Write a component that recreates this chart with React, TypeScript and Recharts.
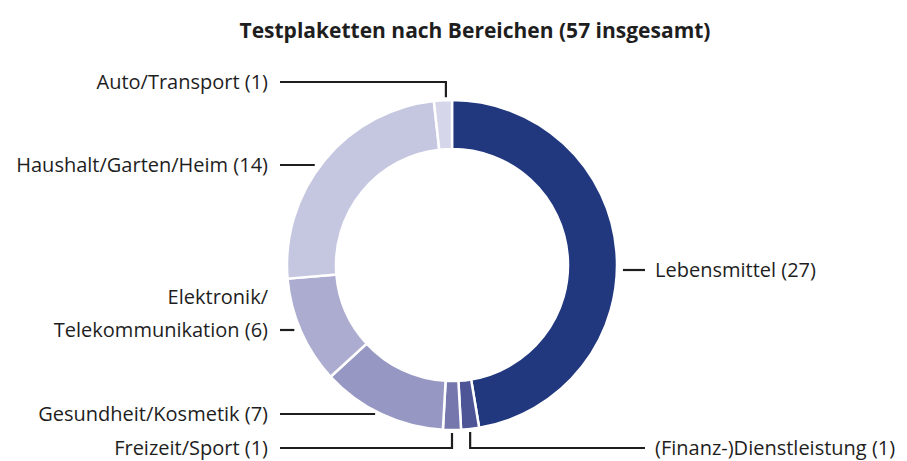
import { PieChart, Pie, Cell } from 'recharts';

// Testplaketten per category, clockwise from 12 o'clock
const categories = [
  'Lebensmittel',
  '(Finanz-)Dienstleistung',
  'Freizeit/Sport',
  'Gesundheit/Kosmetik',
  'Elektronik/\nTelekommunikation',
  'Haushalt/Garten/Heim',
  'Auto/Transport',
];
const counts = [27, 1, 1, 7, 6, 14, 1];
const colors = ['#21387f', '#4d5597', '#7577ad', '#9698c3', '#abacd0', '#c5c6e0', '#d5d6e9'];

const data = categories.map((name, i) => ({ name, value: counts[i] }));
const total = counts.reduce((s, v) => s + v, 0);

const W = 907;
const H = 461;
const CX = 452;
const CY = 265;
const OUTER = 165;
const INNER = 116;
const INK = '#1e1e1e';
const FONT = '"Open Sans", sans-serif';

// label placement: side, row y, and how the leader line is drawn
const LABELS: { side: 'left' | 'right'; y: number; kind: 'dash' | 'up' | 'down' }[] = [
  { side: 'right', y: 270, kind: 'dash' },
  { side: 'right', y: 448, kind: 'down' },
  { side: 'left', y: 448, kind: 'down' },
  { side: 'left', y: 414, kind: 'dash' },
  { side: 'left', y: 330, kind: 'dash' },
  { side: 'left', y: 165, kind: 'dash' },
  { side: 'left', y: 82, kind: 'up' },
];
const LEFT_LINE_X = 280;
const LEFT_TEXT_X = 268;
const RIGHT_LINE_X = 645;
const RIGHT_TEXT_X = 655;

const RAD = Math.PI / 180;

function renderLabel(props: any) {
  const { cx, cy, midAngle, outerRadius, index, name, value } = props;
  const spec = LABELS[index];
  const ax = cx + outerRadius * Math.cos(-midAngle * RAD);
  const ay = cy + outerRadius * Math.sin(-midAngle * RAD);
  const endX = spec.side === 'left' ? LEFT_LINE_X : RIGHT_LINE_X;
  let d = '';
  if (spec.kind === 'dash') {
    const dy = spec.y - cy;
    const edge = Math.sqrt(Math.max(outerRadius * outerRadius - dy * dy, 0));
    const near = spec.side === 'left' ? cx - edge - 6 : cx + edge + 6;
    d = `M${endX},${spec.y}L${near},${spec.y}`;
  } else {
    const startY = spec.kind === 'up' ? ay - 3 : ay + 3;
    const lx = spec.kind === 'up' ? ax + 3 : ax;
    d = `M${lx},${startY}L${lx},${spec.y}L${endX},${spec.y}`;
  }
  const lines = `${name} (${value})`.split('\n');
  const tx = spec.side === 'left' ? LEFT_TEXT_X : RIGHT_TEXT_X;
  const anchor = spec.side === 'left' ? 'end' : 'start';
  return (
    <g key={`lbl-${index}`}>
      <path d={d} stroke={INK} strokeWidth={2.2} fill="none" />
      {lines.map((ln, j) => (
        <text
          key={j}
          x={tx}
          y={spec.y - 1 - (lines.length - 1 - j) * 33}
          textAnchor={anchor}
          dominantBaseline="central"
          fill={INK}
          fontSize={20}
          fontFamily={FONT}
        >
          {ln}
        </text>
      ))}
    </g>
  );
}

export default function App() {
  return (
    <div style={{ position: 'fixed', left: 0, top: 0, width: W, height: H, background: '#fff' }}>
      <PieChart width={W} height={H} margin={{ top: 0, right: 0, bottom: 0, left: 0 }}>
        <text
          x={CX + 23}
          y={30}
          textAnchor="middle"
          dominantBaseline="central"
          fill={INK}
          fontSize={21}
          fontWeight={700}
          fontFamily={FONT}
        >
          {`Testplaketten nach Bereichen (${total} insgesamt)`}
        </text>
        <Pie
          data={data}
          dataKey="value"
          nameKey="name"
          cx={CX}
          cy={CY}
          innerRadius={INNER}
          outerRadius={OUTER}
          startAngle={90}
          endAngle={-270}
          stroke="#ffffff"
          strokeWidth={2.5}
          label={renderLabel}
          labelLine={false}
          isAnimationActive={false}
        >
          {data.map((d, i) => (
            <Cell key={d.name} fill={colors[i]} />
          ))}
        </Pie>
      </PieChart>
    </div>
  );
}
